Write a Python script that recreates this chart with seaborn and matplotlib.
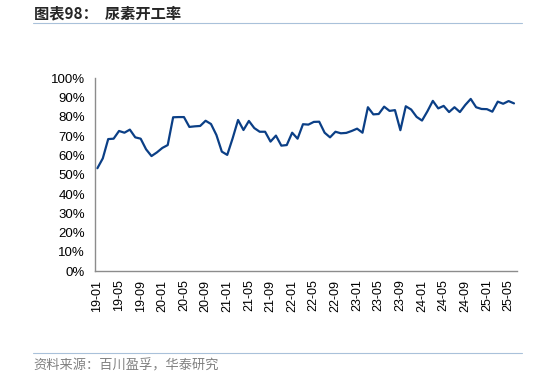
import numpy as np
import pandas as pd
import seaborn as sns
import matplotlib.pyplot as plt
from matplotlib.ticker import PercentFormatter, FixedLocator

# monthly urea operating rate, 2019-01 .. 2025-06 (%)
months = pd.date_range("2019-01-01", periods=78, freq="MS").strftime("%y-%m").tolist()
rate = [
    53.4, 58.5, 68.5, 68.7, 72.7, 71.8, 73.4, 69.4, 68.7, 63.2, 59.7, 61.6,
    63.9, 65.4, 79.8, 79.9, 79.9, 74.8, 75.1, 75.3, 78.0, 76.3, 70.6, 62.0,
    60.3, 68.9, 78.4, 73.2, 77.9, 74.2, 72.3, 72.3, 67.2, 70.3, 65.1, 65.4,
    71.8, 68.7, 76.2, 76.0, 77.4, 77.5, 71.8, 69.4, 72.3, 71.5, 71.7, 72.7,
    73.9, 71.8, 85.0, 81.3, 81.5, 85.3, 83.1, 83.5, 73.1, 85.5, 83.8, 80.0,
    78.1, 82.9, 88.3, 84.4, 85.7, 82.5, 85.0, 82.5, 86.2, 89.3, 85.0, 84.1,
    84.0, 82.7, 87.9, 86.8, 88.2, 87.0,
]
title = "图表98：  尿素开工率"
source = "资料来源：百川盈孚，华泰研究"

df = pd.DataFrame({"idx": np.arange(len(months)), "month": months, "rate": np.array(rate) / 100})

sns.set_theme(style="white")
plt.rcParams["font.family"] = ["Liberation Sans", "Noto Sans CJK SC", "DejaVu Sans"]

fig = plt.figure(figsize=(5.34, 3.78), dpi=100)
ax = fig.add_axes([0.1773, 0.2823, 0.9676 - 0.1773, 0.7929 - 0.2823])

sns.lineplot(data=df, x="idx", y="rate", color="#0B3F86", linewidth=1.6, ax=ax)

axis_grey = "#8C8C8C"
ax.set_xlim(-0.5, len(months) - 0.5)
ax.set_ylim(0, 1.0)
ax.yaxis.set_major_locator(FixedLocator(np.arange(0, 1.01, 0.1)))
ax.yaxis.set_major_formatter(PercentFormatter(1.0, decimals=0))

# labels sit on the month, ticks sit between months (category axis)
ax.set_xticks(df["idx"][::4].tolist())
ax.set_xticklabels(df["month"][::4], rotation=90)
ax.set_xticks(np.arange(-0.5, len(months) - 1, 4), minor=True)
ax.tick_params(axis="x", which="major", length=0, pad=6, labelsize=9, labelcolor="black")
ax.tick_params(axis="x", which="minor", length=4, width=1, color=axis_grey, direction="out")
ax.tick_params(axis="y", length=4, width=1, color=axis_grey, direction="out", pad=3,
               labelsize=9.5, labelcolor="black")

ax.set_xlabel("")
ax.set_ylabel("")
for s in ["top", "right"]:
    ax.spines[s].set_visible(False)
for s in ["left", "bottom"]:
    ax.spines[s].set_color(axis_grey)
    ax.spines[s].set_linewidth(1)

# title, source and the thin rules
fig.text(0.064, 1 - 13 / 378, title, fontsize=11, fontweight="bold", va="center", ha="left",
         family=["Noto Sans CJK SC", "DejaVu Sans"])
fig.add_artist(plt.Line2D([33 / 534, 522 / 534], [1 - 23 / 378] * 2, color="#A9C1DA", lw=0.8))
fig.add_artist(plt.Line2D([33 / 534, 522 / 534], [1 - 353 / 378] * 2, color="#A9C1DA", lw=0.8))
fig.text(0.062, 1 - 366 / 378, source, fontsize=9.5, color="#808080", va="center", ha="left",
         family=["Noto Sans CJK SC", "DejaVu Sans"], fontweight="light")

fig.savefig("out.png", dpi=100)
